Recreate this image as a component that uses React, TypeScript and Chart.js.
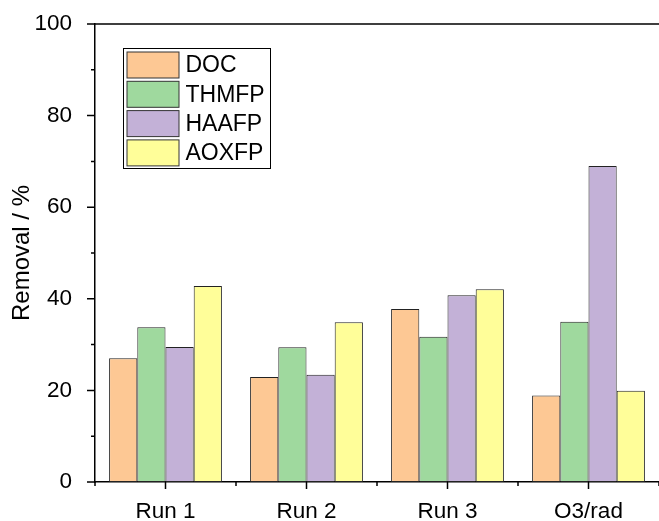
import React, { useEffect, useRef } from "react";
import { Chart, registerables } from "chart.js";

Chart.register(...registerables);

const categories = ["Run 1", "Run 2", "Run 3", "O3/rad"];
const seriesNames = ["DOC", "THMFP", "HAAFP", "AOXFP"];
const docValues = [27.0, 22.9, 37.8, 18.9];
const thmfpValues = [33.8, 29.4, 31.7, 35.0];
const haafpValues = [29.5, 23.4, 40.8, 69.0];
const aoxfpValues = [42.8, 34.9, 42.1, 19.9];
const seriesColors = ["#FDC894", "#9FD99E", "#C3B1D7", "#FFFE99"];
const yTicks = [0, 20, 40, 60, 80, 100];
const yMinorTicks = [10, 30, 50, 70, 90];
const yTitle = "Removal / %";

const FONT = "'Liberation Sans', Arial, sans-serif";

const axisPlugin = {
  id: "originAxes",
  afterDraw(chart: any) {
    const ctx = chart.ctx;
    const { left, right, top, bottom } = chart.chartArea;
    const xs = chart.scales.x;
    const ys = chart.scales.y;
    ctx.save();
    ctx.strokeStyle = "#000";
    ctx.lineWidth = 1.5;
    ctx.beginPath();
    ctx.moveTo(left, top);
    ctx.lineTo(right + 2, top);
    yTicks.forEach((v) => {
      const p = ys.getPixelForValue(v);
      ctx.moveTo(left - 8, p);
      ctx.lineTo(left, p);
    });
    yMinorTicks.forEach((v) => {
      const p = ys.getPixelForValue(v);
      ctx.moveTo(left - 4, p);
      ctx.lineTo(left, p);
    });
    categories.forEach((_, i) => {
      const p = xs.getPixelForValue(i);
      ctx.moveTo(p, bottom);
      ctx.lineTo(p, bottom + 7);
    });
    for (let i = 0; i <= categories.length; i++) {
      const p = xs.getPixelForValue(i - 0.5);
      ctx.moveTo(p, bottom);
      ctx.lineTo(p, bottom + 4);
    }
    ctx.stroke();

    const lx = left + 28.5;
    const ly = top + 24.5;
    const lw = 147;
    const lh = 120;
    ctx.fillStyle = "#fff";
    ctx.fillRect(lx, ly, lw, lh);
    ctx.lineWidth = 1;
    ctx.strokeStyle = "#000";
    ctx.strokeRect(lx, ly, lw, lh);
    ctx.font = `23px ${FONT}`;
    ctx.textBaseline = "middle";
    ctx.textAlign = "left";
    chart.data.datasets.forEach((ds: any, i: number) => {
      const sy = ly + 3.5 + i * 29.3;
      ctx.fillStyle = ds.backgroundColor;
      ctx.fillRect(lx + 3.5, sy, 52, 26);
      ctx.strokeStyle = "#333";
      ctx.lineWidth = 1;
      ctx.strokeRect(lx + 3.5, sy, 52, 26);
      ctx.fillStyle = "#000";
      ctx.fillText(ds.label, lx + 62, sy + 14);
    });
    ctx.restore();
  },
};

export default function App() {
  const ref = useRef<HTMLCanvasElement>(null);
  useEffect(() => {
    if (!ref.current) return;
    const allValues = [docValues, thmfpValues, haafpValues, aoxfpValues];
    const chart = new Chart(ref.current, {
      type: "bar",
      data: {
        labels: categories,
        datasets: seriesNames.map((name, i) => ({
          label: name,
          data: allValues[i],
          backgroundColor: seriesColors[i],
          borderColor: "#222",
          borderWidth: 1,
          borderSkipped: false,
          categoryPercentage: 0.8,
          barPercentage: 1.0,
        })),
      },
      options: {
        responsive: false,
        animation: false,
        layout: { padding: { top: 24, right: 0, left: 0, bottom: 0 } },
        plugins: {
          legend: { display: false },
          tooltip: { enabled: false },
        },
        scales: {
          x: {
            grid: { display: false },
            border: { display: true, color: "#000", width: 1.5 },
            ticks: {
              color: "#000",
              font: { family: FONT, size: 22.5 },
              padding: 8,
              maxRotation: 0,
            },
            afterFit: (s: any) => {
              s.height = 39;
              s.paddingLeft = 0;
              s.paddingRight = 0;
            },
          },
          y: {
            min: 0,
            max: 100,
            grid: { display: false },
            border: { display: true, color: "#000", width: 1.5 },
            ticks: {
              stepSize: 20,
              color: "#000",
              font: { family: FONT, size: 22.5 },
              padding: 15,
            },
            title: {
              display: true,
              text: yTitle,
              color: "#000",
              font: { family: FONT, size: 24 },
              padding: { top: 8, bottom: 0 },
            },
            afterFit: (s: any) => {
              s.width = 95;
              s.paddingTop = 0;
              s.paddingBottom = 0;
            },
          },
        },
      },
      plugins: [axisPlugin],
    });
    return () => chart.destroy();
  }, []);
  return (
    <div style={{ position: "absolute", left: 0, top: 0, width: 659, height: 521, background: "#fff" }}>
      <canvas ref={ref} width={659} height={521} />
    </div>
  );
}
